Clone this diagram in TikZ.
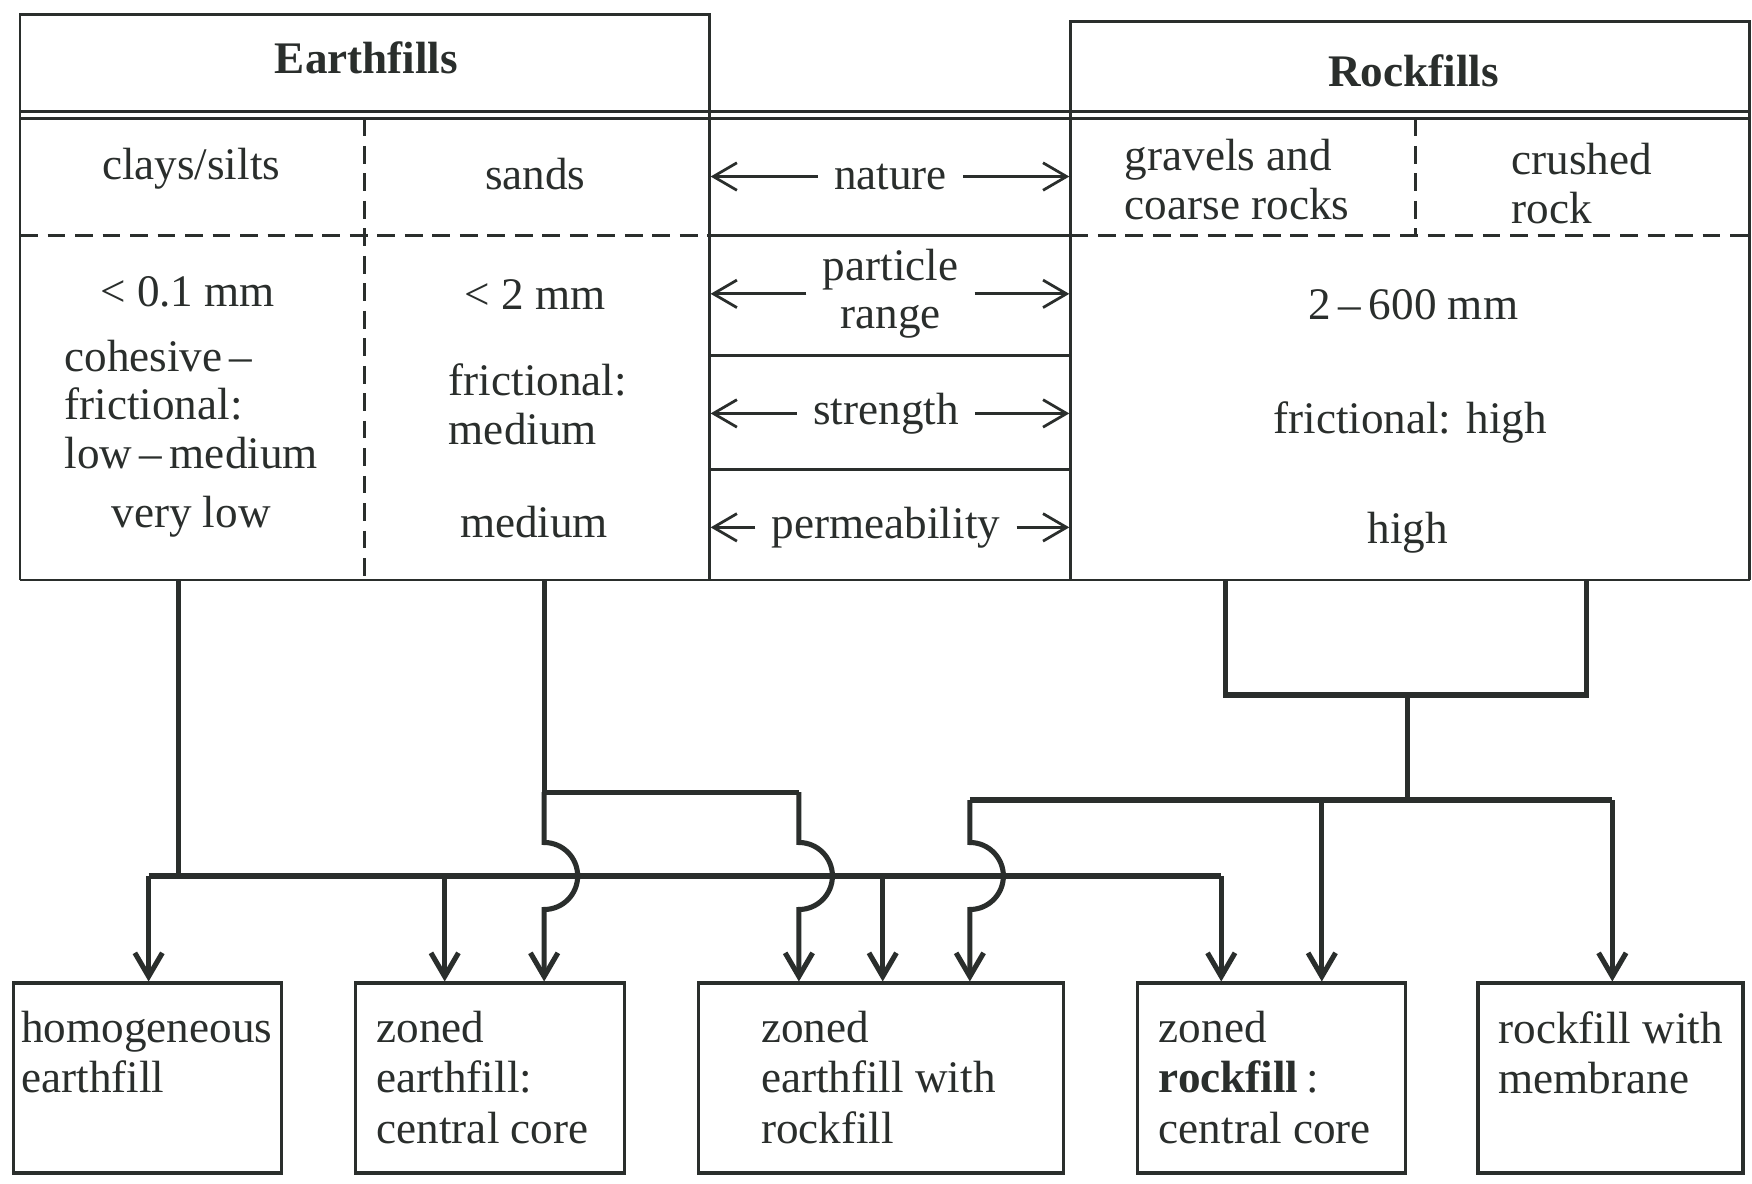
\documentclass[tikz,border=0pt]{standalone}
\usepackage{fontspec}
\setmainfont{Liberation Serif}
\usetikzlibrary{arrows.meta}
\definecolor{ink}{RGB}{42,46,44}
\newcommand{\dgmfont}{\fontsize{11.5}{12.4}\selectfont}
\newcommand{\boxfont}{\fontsize{11.5}{12.8}\selectfont}
\tikzstyle{title} = [text=ink, inner sep=0pt, font=\dgmfont\bfseries]
\tikzstyle{cell} = [text=ink, inner sep=0pt, align=center, font=\dgmfont]
\tikzstyle{lefttext} = [text=ink, inner sep=0pt, align=left, font=\dgmfont]
\tikzstyle{prop} = [text=ink, inner xsep=4pt, inner ysep=0pt, align=center, font=\dgmfont]
\tikzstyle{boxtext} = [lefttext, anchor=north west, font=\boxfont]
\tikzstyle{outbox} = [rectangle, draw=ink, line width=0.9pt, minimum height=17mm, inner sep=0pt]
\tikzstyle{rule} = [draw=ink, line width=0.7pt]
\tikzstyle{split} = [draw=ink, line width=0.7pt, dash pattern=on 4.5pt off 2.5pt]
\tikzstyle{link} = [draw=ink, line width=0.7pt, -{Straight Barb[length=6pt,width=7pt]}]
\tikzstyle{feed} = [draw=ink, line width=1.3pt]
\tikzstyle{line} = [draw=ink, line width=1.3pt, -{Straight Barb[length=6pt,width=7pt]}]
\begin{document}
\begin{tikzpicture}[x=0.1mm, y=-0.1mm]
        \fill[white] (0,0) rectangle (1568,1059);
        \useasboundingbox (0,0) rectangle (1568,1059);
        % Table frame
        \path [rule] (18,519) -- (18,13) -- (635,13) -- (635,519);
        \path [rule] (958,519) -- (958,19) -- (1566,19) -- (1566,519);
        \path [rule] (18,100) -- (1566,100);
        \path [rule] (18,106) -- (1566,106);
        \path [rule] (18,519) -- (1566,519);
        \path [split] (18,211) -- (635,211);
        \path [rule] (635,211) -- (958,211);
        \path [split] (958,211) -- (1566,211);
        \path [rule] (635,318) -- (958,318);
        \path [rule] (635,420) -- (958,420);
        \path [split] (326,106) -- (326,519);
        \path [split] (1267,106) -- (1267,211);
        % Place nodes
        \node [title] (earth) at (328,52) {Earthfills};
        \node [title] (rock) at (1265,63) {Rockfills};
        \node [cell] (clays) at (171,151) {clays/silts};
        \node [cell] (sands) at (479,156) {sands};
        \node [cell] (claysize) at (168,261) {< 0.1 mm};
        \node [lefttext, anchor=west] (claystr) at (57,362) {cohesive\,–\\frictional:\\low\,–\,medium};
        \node [cell] (clayperm) at (171,462) {very low};
        \node [cell] (sandsize) at (479,264) {< 2 mm};
        \node [lefttext, anchor=west] (sandstr) at (401,362) {frictional:\\medium};
        \node [cell] (sandperm) at (478,467) {medium};
        \node [lefttext, anchor=west] (gravels) at (1006,161) {gravels and\\coarse rocks};
        \node [lefttext, anchor=west] (crushed) at (1352,164) {crushed\\rock};
        \node [cell] (rocksize) at (1265,273) {2\,–\,600 mm};
        \node [cell] (rockstr) at (1262,378) {frictional: high};
        \node [cell] (rockperm) at (1260,477) {high};
        % Property nodes
        \node [prop] (nature) at (797,158) {nature};
        \node [prop] (range) at (797,263) {particle\\range};
        \node [prop] (strength) at (793,370) {strength};
        \node [prop] (perm) at (793,472) {permeability};
        \coordinate (earthside) at (636,0);
        \coordinate (rockside) at (957,0);
        \foreach \p in {nature, range, strength, perm} {
            \path [link] (\p) -- (\p -| earthside);
            \path [link] (\p) -- (\p -| rockside);
        }
        % Dam types
        \node [outbox, minimum width=24mm] (homog) at (132,965) {};
        \node [outbox, minimum width=24.1mm] (zonedearth) at (438.5,965) {};
        \node [outbox, minimum width=32.7mm] (zonedmix) at (788.5,965) {};
        \node [outbox, minimum width=24mm] (zonedrock) at (1138,965) {};
        \node [outbox, minimum width=23.7mm] (membrane) at (1441.5,965) {};
        \node [boxtext] (homogtxt) at ([shift={(8,26)}]homog.north west) {homogeneous\\earthfill};
        \node [boxtext] (zonedearthtxt) at ([shift={(20,26)}]zonedearth.north west) {zoned\\earthfill:\\central core};
        \node [boxtext] (zonedmixtxt) at ([shift={(57,26)}]zonedmix.north west) {zoned\\earthfill with\\rockfill};
        \node [boxtext] (zonedrocktxt) at ([shift={(20,26)}]zonedrock.north west) {zoned\\\textbf{rockfill}\,:\\central core};
        \node [boxtext] (membranetxt) at ([shift={(19,26)}]membrane.north west) {rockfill with\\membrane};
        % Draw edges
        \coordinate (clayfoot) at (160,519);
        \coordinate (sandfoot) at (487,519);
        \coordinate (busl) at (133,784);
        \coordinate (busb) at (398,784);
        \coordinate (busc) at (790,784);
        \coordinate (busr) at (1093,784);
        \path [feed] (clayfoot) -- (clayfoot |- busl);
        \path [feed] (busl) -- (busr);
        \path [line] (busl) -- (busl |- homog.north);
        \path [line] (busb) -- (busb |- zonedearth.north);
        \path [line] (busc) -- (busc |- zonedmix.north);
        \path [line] (busr) -- (busr |- zonedrock.north);
        \coordinate (sandknee) at (487,709);
        \coordinate (sandend) at (715,709);
        \path [feed] (sandfoot) -- (sandknee) -- (sandend);
        \path [line] (sandknee) -- (487,754) arc[start angle=90, end angle=-90, radius=3mm] -- (sandknee |- zonedearth.north);
        \path [line] (sandend) -- (715,754) arc[start angle=90, end angle=-90, radius=3mm] -- (sandend |- zonedmix.north);
        \coordinate (rockfootl) at (1097,519);
        \coordinate (rockfootr) at (1420,519);
        \coordinate (rockjoin) at (1260,622);
        \path [feed] (rockfootl) -- (1097,622) -- (1420,622) -- (rockfootr);
        \coordinate (rockl) at (868,716);
        \coordinate (rockm) at (1183,716);
        \coordinate (rockr) at (1443,716);
        \path [feed] (rockjoin) -- (rockjoin |- rockl);
        \path [feed] (rockl) -- (rockr);
        \path [line] (rockl) -- (868,754) arc[start angle=90, end angle=-90, radius=3mm] -- (rockl |- zonedmix.north);
        \path [line] (rockm) -- (rockm |- zonedrock.north);
        \path [line] (rockr) -- (rockr |- membrane.north);
\end{tikzpicture}
\end{document}
